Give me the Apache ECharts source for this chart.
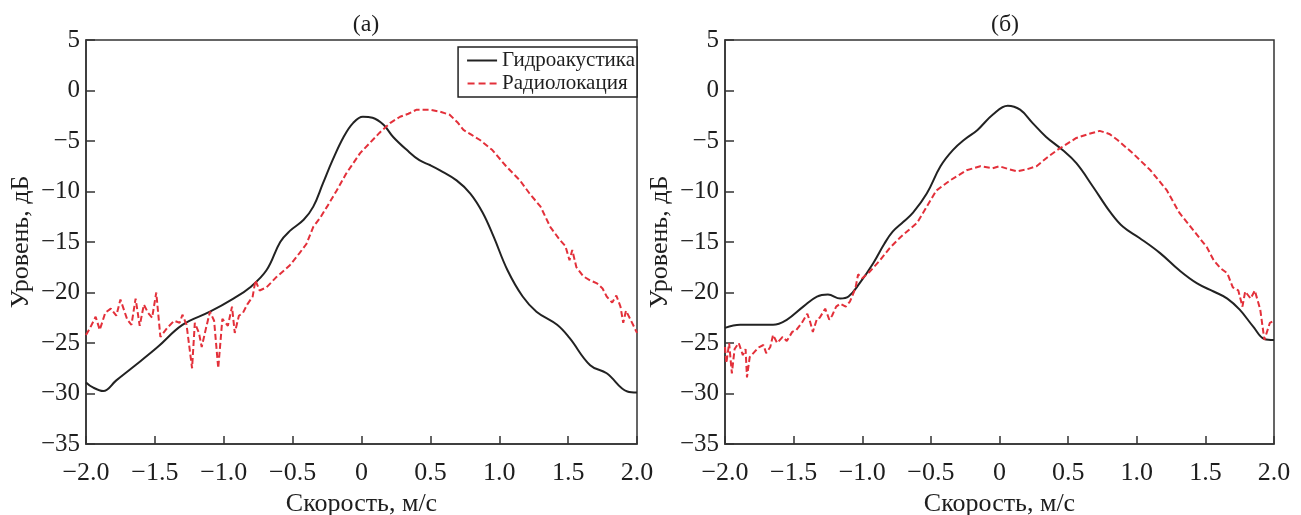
<!DOCTYPE html>
<html><head><meta charset="utf-8">
<script src="https://cdn.jsdelivr.net/npm/echarts@6/dist/echarts.min.js"></script>
<style>html,body{margin:0;padding:0;background:#fff}#c{width:1301px;height:515px}</style>
</head><body><div id="c"></div>
<script>
const panelTitles = ['(a)', '(б)'];
const seriesNames = ['Гидроакустика', 'Радиолокация'];
const xAxisName = 'Скорость, м/с';
const yAxisName = 'Уровень, дБ';
const xTicks = [-2, -1.5, -1, -0.5, 0, 0.5, 1, 1.5, 2];
const yTicks = [-35, -30, -25, -20, -15, -10, -5, 0, 5];

// Panel (a), hydroacoustics: [speed, level]
const hydroA = [[-2.0,-28.9],[-1.95,-29.4],[-1.875,-29.75],[-1.78,-28.7],[-1.66,-27.4],[-1.48,-25.4],[-1.30,-23.2],[-1.10,-21.9],[-0.93,-20.6],[-0.81,-19.5],[-0.69,-17.8],[-0.59,-15.0],[-0.52,-13.9],[-0.42,-12.8],[-0.35,-11.5],[-0.28,-9.2],[-0.21,-6.9],[-0.13,-4.6],[-0.06,-3.2],[0.01,-2.6],[0.08,-2.7],[0.16,-3.4],[0.23,-4.6],[0.33,-5.9],[0.42,-6.9],[0.50,-7.4],[0.57,-7.9],[0.69,-8.9],[0.79,-10.2],[0.88,-12.1],[0.96,-14.5],[1.06,-17.8],[1.17,-20.4],[1.27,-21.9],[1.42,-23.2],[1.51,-24.5],[1.66,-27.2],[1.78,-28.0],[1.93,-29.8],[2.0,-29.9]];
// Panel (a), radar
const radarA = [[-2.0,-24.2],[-1.97,-23.5],[-1.93,-22.4],[-1.90,-23.7],[-1.86,-22.0],[-1.82,-21.6],[-1.78,-22.3],[-1.75,-20.7],[-1.70,-22.7],[-1.67,-23.2],[-1.64,-20.6],[-1.61,-23.3],[-1.58,-21.2],[-1.55,-22.0],[-1.52,-22.5],[-1.49,-20.0],[-1.46,-24.4],[-1.41,-23.5],[-1.36,-22.8],[-1.32,-23.0],[-1.30,-22.2],[-1.27,-23.2],[-1.23,-27.5],[-1.21,-23.0],[-1.18,-24.0],[-1.16,-25.4],[-1.13,-23.6],[-1.10,-21.9],[-1.07,-22.8],[-1.04,-27.5],[-1.01,-22.6],[-0.97,-23.3],[-0.94,-21.4],[-0.92,-24.0],[-0.89,-22.3],[-0.86,-22.0],[-0.83,-21.2],[-0.79,-20.4],[-0.77,-18.8],[-0.74,-19.8],[-0.69,-19.5],[-0.62,-18.5],[-0.56,-17.8],[-0.52,-17.3],[-0.45,-16.1],[-0.40,-15.2],[-0.35,-13.5],[-0.30,-12.6],[-0.25,-11.5],[-0.18,-9.9],[-0.11,-8.2],[-0.01,-6.2],[0.06,-5.2],[0.13,-4.2],[0.21,-3.2],[0.28,-2.6],[0.34,-2.3],[0.40,-1.9],[0.50,-1.9],[0.57,-2.1],[0.64,-2.4],[0.70,-3.2],[0.74,-3.9],[0.80,-4.4],[0.86,-4.9],[0.95,-5.9],[1.05,-7.5],[1.15,-8.9],[1.22,-10.2],[1.30,-11.5],[1.37,-13.5],[1.44,-14.8],[1.48,-15.4],[1.51,-16.8],[1.53,-15.8],[1.56,-17.5],[1.61,-18.4],[1.66,-18.8],[1.71,-19.1],[1.75,-19.6],[1.78,-20.4],[1.82,-21.0],[1.85,-20.3],[1.88,-21.4],[1.90,-23.0],[1.92,-21.8],[1.95,-22.6],[2.0,-24.0]];
// Panel (б), hydroacoustics
const hydroB = [[-2.0,-23.5],[-1.89,-23.2],[-1.65,-23.2],[-1.55,-22.7],[-1.43,-21.4],[-1.33,-20.4],[-1.25,-20.2],[-1.16,-20.6],[-1.10,-20.4],[-1.02,-19.1],[-0.92,-17.1],[-0.84,-15.2],[-0.78,-14.0],[-0.70,-13.0],[-0.63,-12.1],[-0.53,-10.2],[-0.43,-7.5],[-0.34,-5.9],[-0.25,-4.8],[-0.16,-3.9],[-0.05,-2.4],[0.06,-1.5],[0.15,-1.9],[0.24,-3.2],[0.34,-4.6],[0.46,-5.9],[0.56,-7.2],[0.68,-9.5],[0.81,-12.1],[0.90,-13.5],[1.02,-14.6],[1.17,-16.1],[1.31,-17.8],[1.44,-19.1],[1.56,-19.9],[1.66,-20.6],[1.75,-21.7],[1.85,-23.4],[1.93,-24.6],[2.0,-24.7]];
// Panel (б), radar
const radarB = [[-2.0,-25.4],[-1.99,-27.0],[-1.97,-25.0],[-1.95,-28.0],[-1.93,-25.6],[-1.90,-25.0],[-1.87,-26.2],[-1.85,-25.6],[-1.84,-28.4],[-1.82,-26.4],[-1.78,-25.8],[-1.75,-25.4],[-1.72,-25.2],[-1.70,-26.0],[-1.67,-25.4],[-1.65,-24.2],[-1.62,-25.0],[-1.58,-24.4],[-1.55,-24.8],[-1.51,-23.9],[-1.48,-23.7],[-1.44,-23.0],[-1.40,-22.1],[-1.38,-22.9],[-1.36,-23.9],[-1.33,-22.6],[-1.31,-22.5],[-1.27,-21.6],[-1.24,-22.7],[-1.22,-22.3],[-1.19,-21.4],[-1.16,-21.1],[-1.12,-21.4],[-1.09,-20.9],[-1.05,-19.6],[-1.03,-18.2],[-1.00,-18.6],[-0.95,-18.0],[-0.87,-16.8],[-0.80,-15.6],[-0.72,-14.5],[-0.60,-13.1],[-0.53,-11.5],[-0.46,-9.9],[-0.36,-8.9],[-0.24,-7.9],[-0.14,-7.5],[-0.05,-7.7],[0.0,-7.5],[0.07,-7.8],[0.13,-8.0],[0.20,-7.8],[0.27,-7.5],[0.35,-6.6],[0.42,-5.9],[0.56,-4.7],[0.65,-4.3],[0.73,-4.0],[0.80,-4.3],[0.86,-4.9],[0.97,-6.2],[1.10,-7.9],[1.22,-9.9],[1.31,-12.1],[1.41,-13.8],[1.51,-15.5],[1.56,-16.8],[1.61,-17.6],[1.66,-18.1],[1.70,-19.5],[1.74,-19.8],[1.77,-21.4],[1.79,-19.9],[1.83,-20.6],[1.86,-19.8],[1.90,-21.7],[1.93,-24.7],[1.97,-23.0],[2.0,-22.8]];

const FONT = '"Liberation Serif", "DejaVu Serif", serif';
const AX = '#333';
const TXT = '#1e1e1e';
const BLACK = '#222';
const RED = '#e3303a';

function fmtX(v){ if (Math.abs(v) < 1e-9) return '0'; return (v<0?'\u2212':'') + Math.abs(v).toFixed(1); }
function fmtY(v){ if (v === 0) return '0'; return (v<0?'\u2212':'') + Math.abs(v); }

const grids = [
  {left: 86, right: 664, top: 40, bottom: 71},
  {left: 725, right: 27, top: 40, bottom: 71}
].map(g => Object.assign(g, {show: true, containLabel: false, outerBoundsMode: 'none', borderColor: AX, borderWidth: 1.5, backgroundColor: 'transparent'}));

const xAxes = [0,1].map(i => ({
  type: 'value', gridIndex: i, min: -2, max: 2, interval: 0.5,
  name: xAxisName, nameLocation: 'middle', nameGap: 40,
  nameTextStyle: {fontFamily: FONT, fontSize: 26, color: TXT},
  axisLine: {show: true, onZero: false, lineStyle: {color: AX, width: 1.5}},
  axisTick: {show: true, inside: true, length: 8, lineStyle: {color: AX, width: 1.5}},
  axisLabel: {fontFamily: FONT, fontSize: 26, color: TXT, margin: 16, formatter: fmtX},
  splitLine: {show: false}
}));
const yAxes = [0,1].map(i => ({
  type: 'value', gridIndex: i, min: -35, max: 5, interval: 5,
  name: yAxisName, nameLocation: 'middle', nameGap: 52, nameRotate: 90,
  nameTextStyle: {fontFamily: FONT, fontSize: 26, color: TXT},
  axisLine: {show: true, onZero: false, lineStyle: {color: AX, width: 1.5}},
  axisTick: {show: true, inside: true, length: 9, lineStyle: {color: AX, width: 1.5}},
  axisLabel: {fontFamily: FONT, fontSize: 25, color: TXT, margin: 6, formatter: fmtY},
  splitLine: {show: false}
}));

function mk(name, data, i, color, dashed, smooth){
  return {
    name, type: 'line', xAxisIndex: i, yAxisIndex: i, data,
    showSymbol: false, symbol: 'none', smooth: smooth,
    lineStyle: {color, width: 2, type: dashed ? [6, 3] : 'solid'},
    itemStyle: {color},
    animation: false
  };
}

const chart = echarts.init(document.getElementById('c'), null, {renderer: 'canvas'});
chart.setOption({
  backgroundColor: '#fff',
  animation: false,
  title: [
    {text: panelTitles[0], left: 361, top: 8, textAlign: 'center', textStyle: {fontFamily: FONT, fontSize: 24, fontWeight: 'normal', color: TXT}},
    {text: panelTitles[1], left: 1000, top: 8, textAlign: 'center', textStyle: {fontFamily: FONT, fontSize: 24, fontWeight: 'normal', color: TXT}}
  ],
  legend: {
    data: [
      {name: seriesNames[0], icon: 'path://M0,0h30v2h-30z'},
      {name: seriesNames[1], icon: 'path://M0,0h7v2h-7z M11,0h7v2h-7z M22,0h7v2h-7z'}
    ],
    orient: 'vertical', right: 664, top: 47,
    itemWidth: 30, itemHeight: 2, itemGap: 2,
    padding: [3, 2, 3, 9],
    borderColor: '#222', borderWidth: 1.5, backgroundColor: '#fff', borderRadius: 0,
    textStyle: {fontFamily: FONT, fontSize: 21, color: TXT}
  },
  grid: grids,
  xAxis: xAxes,
  yAxis: yAxes,
  series: [
    mk(seriesNames[0], hydroA, 0, BLACK, false, 0.4),
    mk(seriesNames[1], radarA, 0, RED, true, false),
    mk(seriesNames[0], hydroB, 1, BLACK, false, 0.4),
    mk(seriesNames[1], radarB, 1, RED, true, false)
  ]
});
</script></body></html>
